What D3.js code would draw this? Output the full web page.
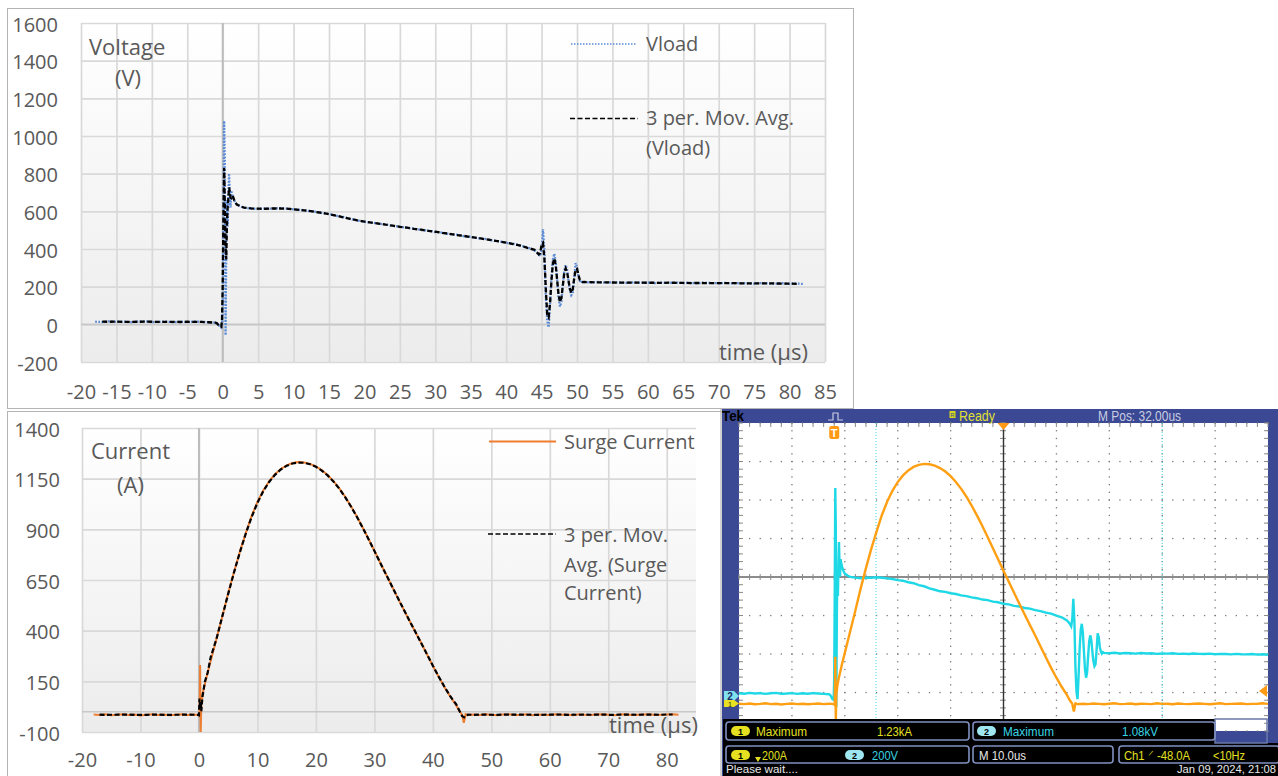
<!DOCTYPE html>
<html><head><meta charset="utf-8">
<script src="https://cdn.jsdelivr.net/npm/d3@7/dist/d3.min.js"></script>
<style>html,body{margin:0;padding:0;background:#fff;}svg{display:block;}</style>
</head><body>
<svg id="chart" width="1278" height="776" xmlns="http://www.w3.org/2000/svg"></svg>
<script>
// ---------------- DATA ----------------
const vTime = [-18,-17,-16,-15,-14,-13,-12,-11,-10,-9,-8,-7,-6,-5,-4,-3,-2,-1,
  -0.8,-0.6,-0.4,-0.2,-0.1,0,0.1,0.2,0.3,0.4,0.5,0.6,0.7,0.8,0.9,1,1.1,1.2,1.4,1.6,1.8,2,2.5,3,
  4,5,6,7,8,9,10,11,12,13,14,15,16,17,18,19,20,21,22,23,24,25,26,27,28,29,30,31,32,33,34,35,36,37,38,39,40,41,42,43,44,
  44.2,44.4,44.6,44.8,45,45.2,45.4,45.6,45.8,46,46.2,46.4,46.6,46.8,47,47.2,47.4,47.6,47.8,48,48.2,48.4,48.6,48.8,49,49.2,49.4,49.6,49.8,50,50.2,50.4,50.6,50.8,51,
  52,53,54,55,56,57,58,59,60,61,62,63,64,65,66,67,68,69,70,71,72,73,74,75,76,77,78,79,80,81,82];
const vLoad = [14,12,16,13,15,11,14,16,12,13,15,11,14,12,15,13,11,9,
  6,-2,-14,-18,-8,90,540,1080,870,-58,430,660,520,690,800,690,620,710,680,660,645,636,626,619,
  615,612,615,614,617,614,611,608,602,599,591,586,576,570,559,552,544,541,534,530,523,519,512,508,501,498,490,487,479,476,468,465,457,454,446,441,433,428,418,409,392,
  386,380,372,362,400,505,390,150,20,-16,110,250,345,375,330,235,140,95,120,210,285,315,290,230,180,155,165,240,325,305,255,232,220,228,224,
  222,225,221,223,222,220,223,221,222,219,221,220,222,219,220,218,221,219,218,220,217,219,218,216,219,217,216,218,215,217,214];

const iTime = [-18,-17,-16,-15,-14,-13,-12,-11,-10,-9,-8,-7,-6,-5,-4,-3,-2,-1,
  -0.5,-0.2,0,0.1,0.2,0.3,0.4,0.6,0.8,1,1.5,2,
  3,4,5,6,7,8,9,10,11,12,13,14,15,16,17,18,19,20,21,22,23,24,25,26,27,28,29,30,31,32,33,34,35,36,37,38,39,40,41,42,43,44,
  44.5,45,45.3,45.6,46,
  47,48,49,50,51,52,53,54,55,56,57,58,59,60,61,62,63,64,65,66,67,68,69,70,71,72,73,74,75,76,77,78,79,80,81,82];
const surgeCurrent = [-14,-16,-13,-17,-15,-12,-16,-14,-18,-15,-13,-16,-14,-17,-15,-13,-16,-14,
  -15,-16,-15,-20,230,-105,30,82,110,135,195,250,
  360,470,585,690,790,880,965,1035,1092,1137,1172,1198,1216,1227,1232,1230,1223,1210,1192,1168,1138,1102,1061,1014,963,909,852,794,735,677,619,562,505,449,394,340,283,227,172,121,74,31,
  5,-14,-55,-12,-16,
  -14,-16,-13,-15,-17,-14,-12,-16,-15,-13,-17,-14,-15,-16,-12,-15,-14,-17,-13,-15,-16,-14,-13,-15,-17,-14,-12,-16,-15,-14,-13,-16,-15,-14,-12,-15];

const topXTicks = [-20,-15,-10,-5,0,5,10,15,20,25,30,35,40,45,50,55,60,65,70,75,80,85];
const topYTicks = [-200,0,200,400,600,800,1000,1200,1400,1600];
const botXTicks = [-20,-10,0,10,20,30,40,50,60,70,80];
const botYTicks = [-100,150,400,650,900,1150,1400];
const scopeCursorsUs = [7.9, 62];

// 3-period moving average (Excel trendline), centred on each sample
function movAvg3(t, v) {
  const out = [];
  for (let i = 1; i < v.length - 1; i++) out.push([t[i], (v[i-1] + v[i] + v[i+1]) / 3]);
  return out;
}
const zip = (t, v) => t.map((d, i) => [d, v[i]]);
const plainFmt = d => String(d);

const svg = d3.select('#chart');
const defs = svg.append('defs');
const grad = defs.append('linearGradient').attr('id','plotBg').attr('x1',0).attr('y1',0).attr('x2',0).attr('y2',1);
grad.append('stop').attr('offset','0%').attr('stop-color','#ffffff');
grad.append('stop').attr('offset','100%').attr('stop-color','#ececec');

const TXT = '#595959';
const FONT = 'Open Sans, Liberation Sans, sans-serif';

function excelPlot(o) {
  const g = svg.append('g');
  const x = d3.scaleLinear().domain(o.xDomain).range(o.xRange);
  const y = d3.scaleLinear().domain(o.yDomain).range(o.yRange);
  const [x0, x1] = o.xRange, [y0, y1] = o.yRange;
  g.append('rect').attr('x', x0).attr('y', y1).attr('width', x1 - x0).attr('height', y0 - y1).attr('fill', 'url(#plotBg)');
  g.append('g').attr('transform', `translate(0,${y0})`)
    .call(d3.axisBottom(x).tickValues(o.xTicks).tickSize(-(y0 - y1)).tickFormat(''))
    .call(s => { s.select('.domain').remove(); s.selectAll('line').attr('stroke', '#d9d9d9').attr('stroke-width', 1.7); });
  g.append('g').attr('transform', `translate(${x0},0)`)
    .call(d3.axisLeft(y).tickValues(o.yTicks).tickSize(-(x1 - x0)).tickFormat(''))
    .call(s => { s.select('.domain').remove(); s.selectAll('line').attr('stroke', '#d9d9d9').attr('stroke-width', 1.7); });
  g.append('line').attr('x1', x0).attr('x2', x1).attr('y1', y(0)).attr('y2', y(0)).attr('stroke', '#c8c8c8').attr('stroke-width', 1.7);
  g.append('line').attr('x1', x(0)).attr('x2', x(0)).attr('y1', y1).attr('y2', y0).attr('stroke', '#bcbcbc').attr('stroke-width', 2);
  const ya = g.append('g').attr('transform', `translate(${x0},0)`)
    .call(d3.axisLeft(y).tickValues(o.yTicks).tickSize(0).tickPadding(o.yPad).tickFormat(plainFmt));
  ya.select('.domain').remove();
  ya.attr('font-family', FONT).attr('font-size', 20).attr('color', TXT);
  ya.selectAll('text').attr('dy', '0.4em');
  const xa = g.append('g').attr('transform', `translate(0,${y0})`)
    .call(d3.axisBottom(x).tickValues(o.xTicks).tickSize(0).tickPadding(o.xPad).tickFormat(plainFmt));
  xa.select('.domain').remove();
  xa.attr('font-family', FONT).attr('font-size', 20).attr('color', TXT);
  const cid = 'clip' + o.id;
  defs.append('clipPath').attr('id', cid).append('rect').attr('x', x0).attr('y', y1).attr('width', x1 - x0).attr('height', y0 - y1);
  const plot = g.append('g').attr('clip-path', `url(#${cid})`);
  return { g, x, y, plot };
}

function addText(g, x, y, s, size, fill, anchor) {
  return g.append('text').attr('x', x).attr('y', y).attr('font-family', FONT).attr('font-size', size)
    .attr('fill', fill || TXT).attr('text-anchor', anchor || 'start').text(s);
}

// ---------------- TOP CHART (Voltage) ----------------
svg.append('rect').attr('x', 7.5).attr('y', 8.5).attr('width', 846).attr('height', 400).attr('fill', '#fff').attr('stroke', '#b4b4b4');
const chV = excelPlot({ id: 'V', xDomain: [-20, 85], xRange: [81, 825], yDomain: [-200, 1600], yRange: [362, 23],
  xTicks: topXTicks, yTicks: topYTicks, yPad: 23, xPad: 23 });
const lineT = d3.line().x(d => chV.x(d[0])).y(d => chV.y(d[1]));
chV.plot.append('path').datum(zip(vTime, vLoad)).attr('d', lineT).attr('fill', 'none')
  .attr('stroke', '#5b8ad6').attr('stroke-width', 2.3).attr('stroke-dasharray', '1.7,1.5');
chV.plot.append('path').datum(movAvg3(vTime, vLoad)).attr('d', lineT).attr('fill', 'none')
  .attr('stroke', '#000').attr('stroke-width', 2.3).attr('stroke-dasharray', '5,2.5');
addText(chV.g, 89, 55, 'Voltage', 22);
addText(chV.g, 115, 86, '(V)', 22);
addText(chV.g, 719, 360, 'time (µs)', 22);
// legend
chV.g.append('line').attr('x1', 571).attr('x2', 637).attr('y1', 44).attr('y2', 44)
  .attr('stroke', '#5b8ad6').attr('stroke-width', 1.7).attr('stroke-dasharray', '1.5,1.5');
addText(chV.g, 646, 51, 'Vload', 20);
chV.g.append('line').attr('x1', 570).attr('x2', 638).attr('y1', 118.5).attr('y2', 118.5)
  .attr('stroke', '#000').attr('stroke-width', 1.6).attr('stroke-dasharray', '5,2.5');
addText(chV.g, 646, 125, '3 per. Mov. Avg.', 20);
addText(chV.g, 646, 155, '(Vload)', 20);

// ---------------- BOTTOM-LEFT CHART (Current) ----------------
svg.append('rect').attr('x', 7.5).attr('y', 411.5).attr('width', 760).attr('height', 400).attr('fill', '#fff').attr('stroke', '#b4b4b4');
const chI = excelPlot({ id: 'I', xDomain: [-20, 85], xRange: [82, 696], yDomain: [-100, 1400], yRange: [732, 428],
  xTicks: botXTicks, yTicks: botYTicks, yPad: 22, xPad: 21 });
const lineB = d3.line().x(d => chI.x(d[0])).y(d => chI.y(d[1]));
chI.plot.append('path').datum(zip(iTime, surgeCurrent)).attr('d', lineB).attr('fill', 'none')
  .attr('stroke', '#ed7d31').attr('stroke-width', 2);
chI.plot.append('path').datum(movAvg3(iTime, surgeCurrent)).attr('d', lineB).attr('fill', 'none')
  .attr('stroke', '#000').attr('stroke-width', 2.2).attr('stroke-dasharray', '5,2.5');
addText(chI.g, 91, 459, 'Current', 22);
addText(chI.g, 117, 493, '(A)', 22);
addText(chI.g, 609, 733, 'time (µs)', 22);
chI.g.append('line').attr('x1', 489).attr('x2', 556).attr('y1', 441.5).attr('y2', 441.5).attr('stroke', '#ed7d31').attr('stroke-width', 2);
addText(chI.g, 564, 449, 'Surge Current', 20);
chI.g.append('line').attr('x1', 488).attr('x2', 556).attr('y1', 534).attr('y2', 534)
  .attr('stroke', '#000').attr('stroke-width', 1.6).attr('stroke-dasharray', '5,2.5');
addText(chI.g, 564, 542, '3 per. Mov.', 20);
addText(chI.g, 564, 572, 'Avg. (Surge', 20);
addText(chI.g, 564, 600, 'Current)', 20);

// ---------------- OSCILLOSCOPE SCREENSHOT ----------------
const SF = 'Liberation Sans, Arial, sans-serif';
const sc = svg.append('g');
sc.append('rect').attr('x', 722).attr('y', 409).attr('width', 556).attr('height', 367).attr('fill', '#3b4894');
sc.append('line').attr('x1', 721).attr('x2', 721).attr('y1', 409).attr('y2', 776).attr('stroke', '#c0c0c0').attr('stroke-width', 1.5);
const GL = 739, GR = 1268, GT = 423, GB = 731, GC = 577;
const divX = (GR - GL) / 10, divY = (GB - GT) / 8;
sc.append('rect').attr('x', GL).attr('y', GT).attr('width', GR - GL).attr('height', GB - GT).attr('fill', '#fff');
// graticule dots
const dots = [];
for (let k = 0; k <= 10; k++) for (let j = 0; j <= 40; j++) dots.push([GL + k * divX, GT + j * divY / 5]);
for (let k = 0; k <= 8; k++) for (let j = 0; j <= 50; j++) dots.push([GL + j * divX / 5, GT + k * divY]);
sc.append('g').selectAll('rect').data(dots).join('rect')
  .attr('x', d => d[0] - 0.6).attr('y', d => d[1] - 0.6).attr('width', 1.3).attr('height', 1.3).attr('fill', '#7a7a7a');
// edge ticks
const ticks = [];
for (let j = 0; j <= 40; j++) { const yy = GT + j * divY / 5; ticks.push([GL, yy, GL + 4, yy], [GR - 4, yy, GR, yy]); }
for (let j = 0; j <= 50; j++) { const xx = GL + j * divX / 5; ticks.push([xx, GT, xx, GT + 4], [xx, GC - 3, xx, GC + 3]); }
for (let j = 0; j <= 40; j++) { const yy = GT + j * divY / 5; ticks.push([1003 - 3, yy, 1003 + 3, yy]); }
sc.append('g').selectAll('line').data(ticks).join('line')
  .attr('x1', d => d[0]).attr('y1', d => d[1]).attr('x2', d => d[2]).attr('y2', d => d[3])
  .attr('stroke', '#8a8a8a').attr('stroke-width', 1);
sc.append('line').attr('x1', GL).attr('x2', GR).attr('y1', GC).attr('y2', GC).attr('stroke', '#8c8c8c').attr('stroke-width', 2.2);
sc.append('line').attr('x1', 1003.5).attr('x2', 1003.5).attr('y1', GT).attr('y2', GB).attr('stroke', '#333').attr('stroke-width', 1.4);

const sx = d3.scaleLinear().domain([-18, 82]).range([GL, GR]);   // 10 µs/div, M Pos 32 µs
const sy1 = d3.scaleLinear().domain([0, 200]).range([701, 701 - divY]); // Ch1 200 A/div
const sy2 = d3.scaleLinear().domain([0, 200]).range([696, 696 - divY]); // Ch2 200 V/div
sc.selectAll('.cursor').data(scopeCursorsUs).join('line').attr('class', 'cursor')
  .attr('x1', d => sx(d)).attr('x2', d => sx(d)).attr('y1', GT).attr('y2', GB)
  .attr('stroke', '#38d8e8').attr('stroke-width', 1).attr('stroke-dasharray', '1,2');
defs.append('clipPath').attr('id', 'clipScope').append('rect').attr('x', GL).attr('y', GT).attr('width', GR - GL).attr('height', GB - GT + 10);
const tr = sc.append('g').attr('clip-path', 'url(#clipScope)');
tr.append('path').datum(zip(vTime, vLoad)).attr('fill', 'none').attr('stroke', '#1ed8e6').attr('stroke-width', 2.4)
  .attr('d', d3.line().x(d => sx(d[0])).y(d => sy2(d[1])));
tr.append('path').datum(zip(iTime, surgeCurrent)).attr('fill', 'none').attr('stroke', '#ff9f14').attr('stroke-width', 2.4)
  .attr('d', d3.line().x(d => sx(d[0])).y(d => sy1(d[1])));

// markers
sc.append('path').attr('d', `M${1003.5 - 6},${GT} L${1003.5 + 6},${GT} L1003.5,${GT + 7} Z`).attr('fill', '#ff9a14');
sc.append('rect').attr('x', sx(0) - 5).attr('y', 426).attr('width', 10).attr('height', 13).attr('rx', 2).attr('fill', '#ff9a14');
sc.append('text').attr('x', sx(0)).attr('y', 437).attr('text-anchor', 'middle').attr('font-family', SF).attr('font-weight', 'bold')
  .attr('font-size', 11).attr('fill', '#fff').text('T');
sc.append('path').attr('d', `M${GR - 9},691 L${GR - 1},685 L${GR - 1},697 Z`).attr('fill', '#ff9a14');
sc.append('path').attr('d', 'M724,691 L734,691 L739,696 L734,701 L724,701 Z').attr('fill', '#7fe0ee');
sc.append('text').attr('x', 730).attr('y', 700).attr('text-anchor', 'middle').attr('font-family', SF).attr('font-weight', 'bold').attr('font-size', 10).attr('fill', '#1a2a60').text('2');
sc.append('path').attr('d', 'M724,700 L734,700 L739,703.5 L734,707 L724,707 Z').attr('fill', '#e8e020');
sc.append('text').attr('x', 730).attr('y', 707).attr('text-anchor', 'middle').attr('font-family', SF).attr('font-size', 7).attr('fill', '#222').text('1');

// top bar
function sText(x, y, s, size, fill, len, weight) {
  const t = sc.append('text').attr('x', x).attr('y', y).attr('font-family', SF).attr('font-size', size).attr('fill', fill).text(s);
  if (len) t.attr('textLength', len).attr('lengthAdjust', 'spacingAndGlyphs');
  if (weight) t.attr('font-weight', weight);
  return t;
}
sText(722, 421, 'Tek', 15, '#000', 22, 'bold');
sc.append('path').attr('d', 'M828,420 L833,420 L833,413 L838,413 L838,420 L843,420').attr('fill', 'none').attr('stroke', '#c8cce0').attr('stroke-width', 1.2);
sc.append('rect').attr('x', 949.5).attr('y', 411).attr('width', 6).attr('height', 7).attr('fill', '#d8d820');
sc.append('text').attr('x', 952.5).attr('y', 417).attr('text-anchor', 'middle').attr('font-family', SF).attr('font-size', 6).attr('fill', '#3b4894').text('R');
sText(959, 421, 'Ready', 14, '#e0e030', 36);
sText(1098, 421, 'M Pos: 32.00us', 14, '#c8cce0', 83);

// measurement panel
sc.append('rect').attr('x', 723).attr('y', 719).attr('width', 492).attr('height', 24).attr('fill', '#000');
sc.append('rect').attr('x', 723).attr('y', 743).attr('width', 555).attr('height', 33).attr('fill', '#000');
sc.append('rect').attr('x', 1215).attr('y', 719).attr('width', 52).attr('height', 24).attr('fill', 'none').attr('stroke', '#6a78a8').attr('stroke-width', 1.5);
const boxes = [[726, 722, 243, 18], [973, 722, 242, 18], [726, 746, 243, 17], [973, 746, 140, 17], [1119, 746, 160, 17]];
sc.selectAll('.mbox').data(boxes).join('rect').attr('class', 'mbox')
  .attr('x', d => d[0]).attr('y', d => d[1]).attr('width', d => d[2]).attr('height', d => d[3]).attr('rx', 3)
  .attr('fill', 'none').attr('stroke', '#8090c0').attr('stroke-width', 1.6);
function pill(x, y, label, fill) {
  sc.append('rect').attr('x', x).attr('y', y).attr('width', 19).attr('height', 10).attr('rx', 5).attr('fill', fill);
  sc.append('text').attr('x', x + 9.5).attr('y', y + 8.5).attr('text-anchor', 'middle').attr('font-family', SF)
    .attr('font-weight', 'bold').attr('font-size', 9).attr('fill', '#000').text(label);
}
const YEL = '#e4e020', CYA = '#38d4e4';
pill(731, 726, '1', YEL); sText(756, 736, 'Maximum', 13, YEL, 51); sText(877, 736, '1.23kA', 13, YEL, 35);
pill(977, 726, '2', '#9ee6f0'); sText(1003, 736, 'Maximum', 13, CYA, 51); sText(1122, 736, '1.08kV', 13, CYA, 36);
pill(731, 750, '1', YEL);
sc.append('path').attr('d', 'M755,757 L761,757 L758,762 Z').attr('fill', YEL);
sText(762, 760, '200A', 13, YEL, 25);
pill(845, 750, '2', '#9ee6f0'); sText(872, 760, '200V', 13, CYA, 26);
sText(979, 760, 'M 10.0us', 13, '#e8e8e8', 47);
sText(1124, 760, 'Ch1 ⸍ -48.0A', 13, YEL, 66);
sText(1213, 760, '<10Hz', 13, YEL, 32);
sText(726, 773, 'Please wait....', 11.5, '#e8e8e8', 72);
sText(1177, 773, 'Jan 09, 2024, 21:08', 11.5, '#e8e8e8', 99);
</script>
</body></html>
